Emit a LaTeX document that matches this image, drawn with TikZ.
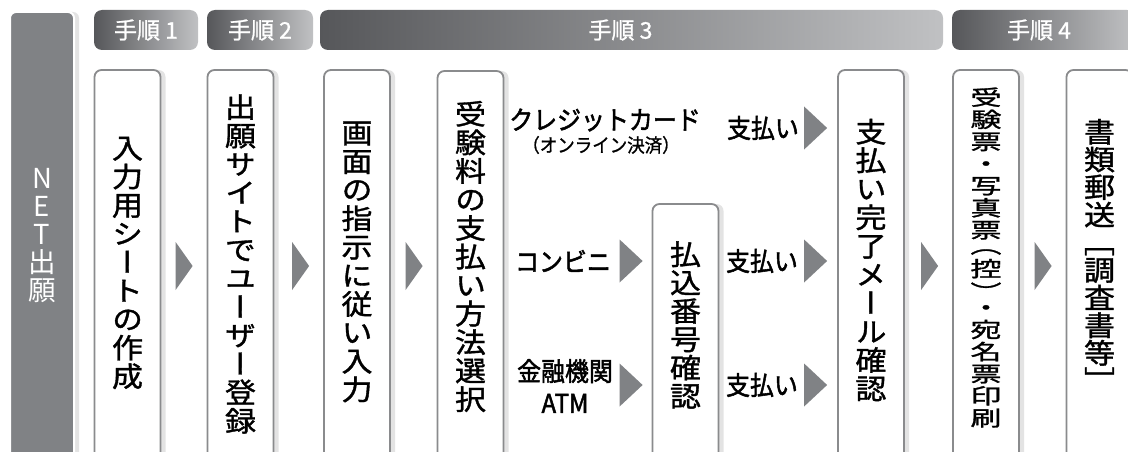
\documentclass[tikz,border=0pt]{standalone}
\usepackage{fontspec}
\newfontfamily\jp[FakeBold=1]{Noto Sans CJK JP}
\newfontfamily\jph[FakeBold=2]{Noto Sans CJK JP}
\newfontfamily\vjp[RawFeature=+vert,FakeBold=1.2]{Noto Sans CJK JP}
\newfontfamily\vjpl[RawFeature=+vert]{Noto Sans CJK JP}
\usetikzlibrary{calc,shadows}
\definecolor{colgray}{RGB}{128,130,133}
\definecolor{hdark}{RGB}{86,87,90}
\definecolor{hlight}{RGB}{192,193,195}
\definecolor{boxline}{RGB}{138,139,141}
\makeatletter
\newcommand\vcells[1]{\@tfor\vch:=#1\do{\hbox to 1.1em{\hss\vch\hss}}}
\makeatother
\newcommand\vtext[3]{\scalebox{1}[#1]{\vbox{\baselineskip=#2\lineskiplimit=-\maxdimen\lineskip=0pt\vcells{#3}}}}
\newcommand\hl[1]{\scalebox{0.92}[1]{#1}}
\newcommand\arrowtip[3]{\fill[colgray] ($(#1)+(-#2,-#3)$) -- (#1) -- ($(#1)+(-#2,#3)$) -- cycle;}
\begin{document}
\begin{tikzpicture}[x=1pt,y=-1pt,
  colbox/.style={fill=colgray,draw=white,line width=2pt,rounded corners=6pt,minimum width=64pt,minimum height=460pt,inner sep=0pt,drop shadow={shadow xshift=5pt,shadow yshift=0pt,opacity=0.22}},
  hdr/.style={rounded corners=8pt,left color=hdark,right color=hlight,draw=none,minimum height=40pt,inner sep=0pt,text=white,font=\jp\fontsize{23}{23}\selectfont},
  stepbox/.style={draw=boxline,line width=1.8pt,fill=white,rounded corners=7pt,minimum width=66pt,inner sep=0pt,drop shadow={shadow xshift=5pt,shadow yshift=0pt,opacity=0.22}},
  vlabel/.style={inner sep=0pt,font=\vjp\fontsize{31}{31}\selectfont},
  hlabel/.style={inner sep=0pt,font=\jph\fontsize{26}{26}\selectfont}]
\useasboundingbox (0,0) rectangle (1128,452);
\fill[white] (0,0) rectangle (1128,452);
% left column
\node[colbox] (net) at (42,242) {};
\node[vlabel,text=white,font=\vjpl\fontsize{27.5}{27.5}\selectfont] (nett) at (42,236) {\vtext{1}{28pt}{NET出願}};
% headers
\node[hdr,minimum width=104pt] (h1) at (146,30) {手順 1};
\node[hdr,minimum width=106pt] (h2) at (260,30) {手順 2};
\node[hdr,minimum width=623pt] (h3) at (631.5,30) {手順 3\hspace*{22pt}};
\node[hdr,minimum width=183pt] (h4) at (1043.5,30) {手順 4\hspace*{9pt}};
% boxes
\node[stepbox,minimum height=400pt] (b1) at (127.5,270) {};
\node[stepbox,minimum height=400pt] (b2) at (240.5,270) {};
\node[stepbox,minimum height=400pt] (b3) at (357,270) {};
\node[stepbox,minimum height=400pt] (b4) at (470.5,271) {};
\node[stepbox,minimum height=266pt] (bk) at (685.5,337) {};
\node[stepbox,minimum height=400pt] (b5) at (871,270) {};
\node[stepbox,minimum height=400pt] (b6) at (986,270) {};
\node[stepbox,minimum height=400pt] (b7) at (1099.5,270) {};
% vertical labels
\node[vlabel] (t1) at (b1.center |- 0,263) {\vtext{0.9}{31.7pt}{入力用シートの作成}};
\node[vlabel] (t2) at (b2.center |- 0,264) {\vtext{0.9}{31.7pt}{出願サイトでユーザー登録}};
\node[vlabel] (t3) at (b3.center |- 0,262) {\vtext{0.9}{31.7pt}{画面の指示に従い入力}};
\node[vlabel] (t4) at (b4.center |- 0,256.5) {\vtext{0.9}{31.7pt}{受験料の支払い方法選択}};
\node[vlabel] (tk) at (bk.center |- 0,325) {\vtext{0.9}{31.5pt}{払込番号確認}};
\node[vlabel] (t5) at (b5.center |- 0,260) {\vtext{0.9}{31.7pt}{支払い完了メール確認}};
\node[vlabel] (t6) at (b6.center |- 0,257.5) {\scalebox{1}[0.68]{\vbox{\baselineskip=32.5pt\lineskiplimit=-\maxdimen\lineskip=0pt\vcells{受験票・写真票}\vskip-10pt\vcells{（}\vskip2pt\vcells{控}\vskip2pt\vcells{）}\vskip-10pt\vcells{・宛名票印刷}}}};
\node[vlabel] (t7) at (b7.center |- 0,255) {\vtext{0.9}{30.7pt}{書類郵送［調査書等］}};
% horizontal labels
\node[hlabel] (cc) at (605,120) {\hl{クレジットカード}};
\node[hlabel,font=\jp\fontsize{19}{19}\selectfont] (ccn) at (601,145) {\hl{（オンライン決済）}};
\node[hlabel] (pay1) at (763,128) {\hl{支払い}};
\node[hlabel] (conv) at (563,261) {\hl{コンビニ}};
\node[hlabel] (pay2) at (762,261) {\hl{支払い}};
\node[hlabel,align=center,font=\jph\fontsize{26}{32}\selectfont] (bank) at (565,386) {\hl{金融機関}\\\hl{ATM}};
\node[hlabel] (pay3) at (762,385) {\hl{支払い}};
% arrows
\coordinate (ay) at (0,266);
\coordinate (p12) at ($(b2.west |- ay)+(-14,0)$);
\coordinate (p23) at ($(b3.west |- ay)+(-14,0)$);
\coordinate (p34) at ($(b4.west |- ay)+(-14,0)$);
\coordinate (p56) at ($(b6.west |- ay)+(-14,0)$);
\coordinate (p67) at ($(b7.west |- ay)+(-14,0)$);
\arrowtip{p12}{17}{24}
\arrowtip{p23}{17}{24}
\arrowtip{p34}{17}{24}
\arrowtip{p56}{17}{24}
\arrowtip{p67}{17}{24}
\coordinate (q1) at ($(b5.west |- pay1)+(-10,0)$);
\coordinate (q2) at ($(bk.west |- conv)+(-9,0)$);
\coordinate (q3) at ($(b5.west |- conv)+(-10,0)$);
\coordinate (q4) at ($(bk.west |- pay3)+(-9,0)$);
\coordinate (q5) at ($(b5.west |- pay3)+(-10,0)$);
\arrowtip{q1}{23}{21.5}
\arrowtip{q2}{23}{21.5}
\arrowtip{q3}{23}{21.5}
\arrowtip{q4}{23}{21.5}
\arrowtip{q5}{23}{21.5}
\end{tikzpicture}
\end{document}
